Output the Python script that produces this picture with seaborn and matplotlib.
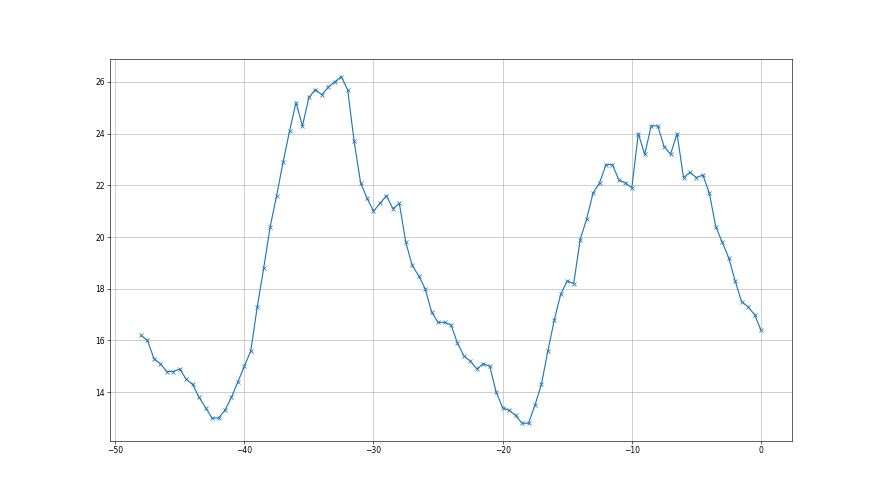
import numpy as np
import pandas as pd
import matplotlib
matplotlib.use("Agg")
import matplotlib.pyplot as plt
import seaborn as sns

# x positions, half-unit steps from -48 to 0
x_vals = [-48.0, -47.5, -47.0, -46.5, -46.0, -45.5, -45.0, -44.5, -44.0, -43.5,
          -43.0, -42.5, -42.0, -41.5, -41.0, -40.5, -40.0, -39.5, -39.0, -38.5,
          -38.0, -37.5, -37.0, -36.5, -36.0, -35.5, -35.0, -34.5, -34.0, -33.5,
          -33.0, -32.5, -32.0, -31.5, -31.0, -30.5, -30.0, -29.5, -29.0, -28.5,
          -28.0, -27.5, -27.0, -26.5, -26.0, -25.5, -25.0, -24.5, -24.0, -23.5,
          -23.0, -22.5, -22.0, -21.5, -21.0, -20.5, -20.0, -19.5, -19.0, -18.5,
          -18.0, -17.5, -17.0, -16.5, -16.0, -15.5, -15.0, -14.5, -14.0, -13.5,
          -13.0, -12.5, -12.0, -11.5, -11.0, -10.5, -10.0, -9.5, -9.0, -8.5,
          -8.0, -7.5, -7.0, -6.5, -6.0, -5.5, -5.0, -4.5, -4.0, -3.5,
          -3.0, -2.5, -2.0, -1.5, -1.0, -0.5, 0.0]

y_vals = [16.2, 16.0, 15.3, 15.1, 14.8, 14.8, 14.9, 14.5, 14.3, 13.8,
          13.4, 13.0, 13.0, 13.3, 13.8, 14.4, 15.0, 15.6, 17.3, 18.8,
          20.4, 21.6, 22.9, 24.1, 25.2, 24.3, 25.4, 25.7, 25.5, 25.8,
          26.0, 26.2, 25.7, 23.7, 22.1, 21.5, 21.0, 21.3, 21.6, 21.1,
          21.3, 19.8, 18.9, 18.5, 18.0, 17.1, 16.7, 16.7, 16.6, 15.9,
          15.4, 15.2, 14.9, 15.1, 15.0, 14.0, 13.4, 13.3, 13.1, 12.8,
          12.8, 13.5, 14.3, 15.6, 16.8, 17.8, 18.3, 18.2, 19.9, 20.7,
          21.7, 22.1, 22.8, 22.8, 22.2, 22.1, 21.9, 24.0, 23.2, 24.3,
          24.3, 23.5, 23.2, 24.0, 22.3, 22.5, 22.3, 22.4, 21.7, 20.4,
          19.8, 19.2, 18.3, 17.5, 17.3, 17.0, 16.4]

df = pd.DataFrame({"x": x_vals, "y": y_vals})

fig, ax = plt.subplots(figsize=(16, 9), dpi=55)
sns.lineplot(data=df, x="x", y="y", marker="x", color="C0",
             markeredgecolor="C0", markeredgewidth=1.0, markersize=6, ax=ax)
ax.set_xlabel("")
ax.set_ylabel("")
ax.grid(True)

fig.savefig("out.png", dpi=55)
